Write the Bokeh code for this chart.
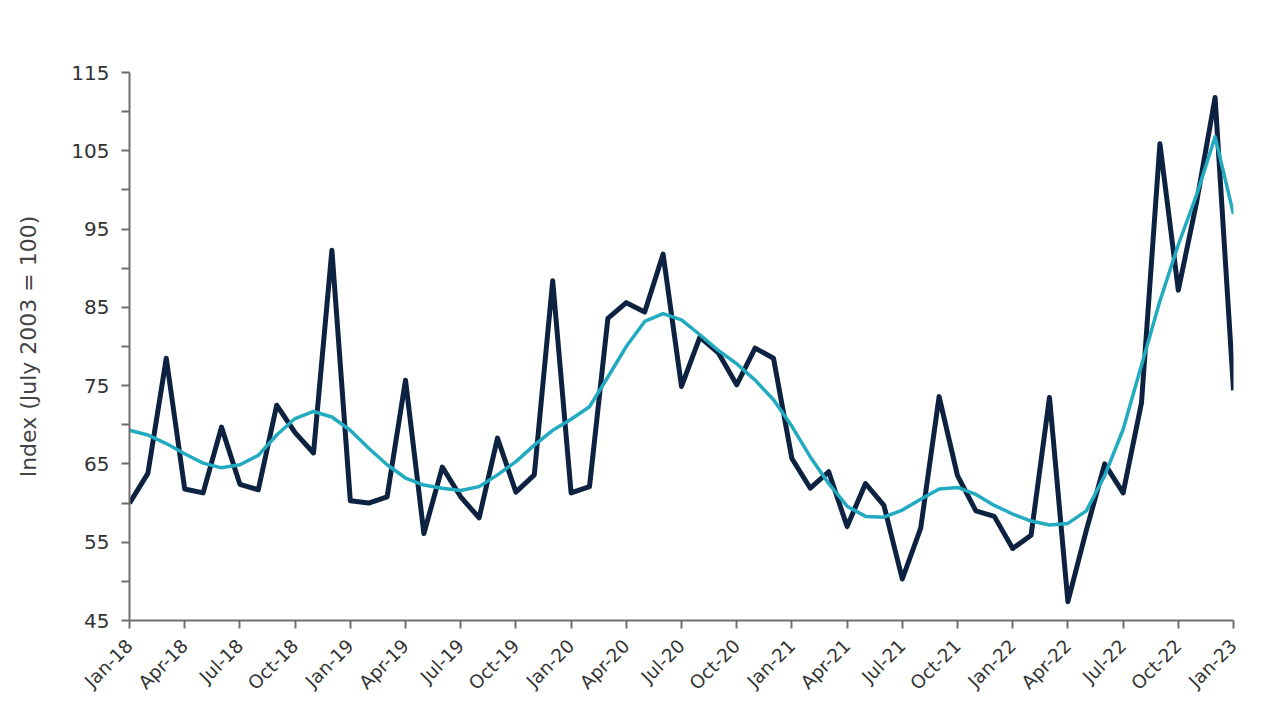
from bokeh.plotting import figure
from bokeh.models import FixedTicker, ColumnDataSource
from bokeh.embed import file_html
from bokeh.resources import INLINE

# Month labels, Jan-18 .. Jan-23
month_names = ["Jan", "Feb", "Mar", "Apr", "May", "Jun", "Jul", "Aug", "Sep", "Oct", "Nov", "Dec"]
months = [f"{m}-{y}" for y in ["18", "19", "20", "21", "22"] for m in month_names] + ["Jan-23"]

# Monthly index (dark line)
index_values = [
    60.0, 63.8, 78.5, 61.8, 61.3, 69.7, 62.4, 61.7, 72.5, 69.0, 66.4, 92.3,
    60.3, 60.0, 60.8, 75.7, 56.1, 64.6, 60.8, 58.1, 68.3, 61.4, 63.6, 88.4,
    61.3, 62.1, 83.6, 85.6, 84.4, 91.8, 74.9, 81.2, 79.2, 75.1, 79.8, 78.5,
    65.7, 61.9, 64.0, 57.0, 62.5, 59.7, 50.3, 56.8, 73.6, 63.5, 59.0, 58.3,
    54.2, 55.9, 73.5, 47.4, 56.5, 65.0, 61.3, 72.8, 105.9, 87.2, 98.5, 111.8,
    74.4,
]

# Smoothed trend (teal line)
trend_values = [
    69.3, 68.7, 67.6, 66.3, 65.1, 64.5, 64.9, 66.1, 68.7, 70.8, 71.7, 71.0,
    69.3, 67.0, 64.9, 63.2, 62.3, 61.9, 61.6, 62.1, 63.6, 65.3, 67.4, 69.3,
    70.7, 72.3, 76.1, 80.0, 83.2, 84.2, 83.4, 81.5, 79.5, 77.8, 75.7, 73.2,
    69.8, 65.9, 62.5, 59.6, 58.3, 58.2, 59.1, 60.5, 61.8, 62.0, 61.1, 59.7,
    58.6, 57.7, 57.2, 57.4, 59.0, 63.5, 69.4, 77.6, 85.8, 93.0, 99.4, 106.8,
    96.9,
]

y_ticks = [45, 55, 65, 75, 85, 95, 105, 115]
y_minor = [50, 60, 70, 80, 90, 100, 110]
x_tick_step = 3

x = list(range(len(months)))
src = ColumnDataSource(dict(x=x, idx=index_values, trend=trend_values, month=months))

p = figure(
    width=1263, height=704,
    x_range=(0, len(months) - 1), y_range=(45, 115),
    output_backend="svg", toolbar_location=None,
    min_border_left=129, min_border_right=30, min_border_top=72, min_border_bottom=83,
)
p.background_fill_color = "white"
p.border_fill_color = "white"
p.outline_line_color = None
p.grid.visible = False

p.line("x", "idx", source=src, line_color="#0d2240", line_width=5, line_join="round")
p.line("x", "trend", source=src, line_color="#22abc0", line_width=3.5, line_join="round")

tick_positions = x[::x_tick_step]
p.xaxis.ticker = FixedTicker(ticks=tick_positions)
p.xaxis.major_label_overrides = {i: months[i] for i in tick_positions}
p.xaxis.major_label_orientation = 0.785398
p.yaxis.ticker = FixedTicker(ticks=y_ticks, minor_ticks=y_minor)

for ax in (p.xaxis, p.yaxis):
    ax.axis_line_color = "#6e6e6e"
    ax.axis_line_width = 2
    ax.major_tick_line_color = "#6e6e6e"
    ax.major_tick_line_width = 2
    ax.major_tick_in = 0
    ax.major_tick_out = 8
    ax.major_label_text_font = "DejaVu Sans"
    ax.major_label_text_color = "#333333"

p.xaxis.minor_tick_line_color = None
p.yaxis.minor_tick_line_color = "#6e6e6e"
p.yaxis.minor_tick_line_width = 2
p.yaxis.minor_tick_in = 0
p.yaxis.minor_tick_out = 8

p.yaxis.major_label_text_font_size = "20px"
p.xaxis.major_label_text_font_size = "18.5px"
p.yaxis.major_label_standoff = 12
p.xaxis.major_label_standoff = 14

p.yaxis.axis_label = "Index (July 2003 = 100)"
p.yaxis.axis_label_text_font = "DejaVu Sans"
p.yaxis.axis_label_text_font_style = "normal"
p.yaxis.axis_label_text_font_size = "22px"
p.yaxis.axis_label_text_color = "#444444"
p.yaxis.axis_label_standoff = 27

open("out.html", "w").write(file_html(p, INLINE))
